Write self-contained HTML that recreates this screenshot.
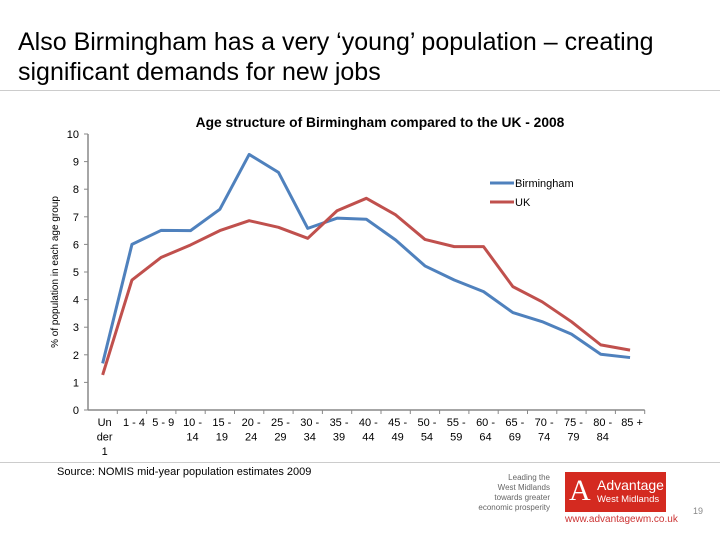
<!DOCTYPE html>
<html><head><meta charset="utf-8"><style>
body{margin:0;width:720px;height:540px;background:#fff;font-family:"Liberation Sans",sans-serif;overflow:hidden;position:relative}
.title{position:absolute;left:18px;top:27px;font-size:25px;line-height:30px;color:#000;white-space:nowrap}
.hr{position:absolute;left:0;width:720px;height:1px;background:#ccc}
</style></head><body>
<div class="title">Also Birmingham has a very ‘young’ population – creating<br>significant demands for new jobs</div>
<div class="hr" style="top:90px"></div>
<div class="hr" style="top:462px"></div>
<svg id="chart" width="720" height="540" style="position:absolute;left:0;top:0" font-family="Liberation Sans, sans-serif"></svg>
<div style="position:absolute;left:57px;top:466px;font-size:11px">Source: NOMIS mid-year population estimates 2009</div>
<div style="position:absolute;left:470px;top:473px;width:80px;text-align:right;font-size:8px;line-height:10px;color:#666">Leading the<br>West Midlands<br>towards greater<br>economic prosperity</div>
<div style="position:absolute;left:565px;top:472px;width:101px;height:40px;background:#d42a20;color:#fff;overflow:hidden">
<div style="position:absolute;left:4px;top:4px;font-size:30px;font-family:'Liberation Serif',serif;line-height:30px">A</div>
<div style="position:absolute;left:32px;top:5px;font-size:14px;line-height:16px">Advantage</div>
<div style="position:absolute;left:32px;top:22px;font-size:9.5px;line-height:12px">West Midlands</div></div>
<div style="position:absolute;left:565px;top:514px;font-size:10px;color:#c33">www.advantagewm.co.uk</div>
<div style="position:absolute;left:693px;top:506px;font-size:9px;color:#888">19</div>
<script>
const categories=[["Un","der","1"],["1 - 4"],["5 - 9"],["10 -","14"],["15 -","19"],["20 -","24"],["25 -","29"],["30 -","34"],["35 -","39"],["40 -","44"],["45 -","49"],["50 -","54"],["55 -","59"],["60 -","64"],["65 -","69"],["70 -","74"],["75 -","79"],["80 -","84"],["85 +"]];
const birmingham=[1.69,6.0,6.51,6.5,7.27,9.26,8.61,6.58,6.95,6.91,6.16,5.22,4.71,4.29,3.53,3.2,2.75,2.02,1.9];
const uk=[1.27,4.71,5.53,5.98,6.5,6.86,6.62,6.22,7.22,7.67,7.07,6.18,5.92,5.92,4.47,3.92,3.2,2.36,2.17];
const yTicks=[0,1,2,3,4,5,6,7,8,9,10];
const svg=document.getElementById('chart');const NS='http://www.w3.org/2000/svg';
const x0=88,cw=29.3,yb=410,yt=134;
const X=i=>x0+cw*(i+0.5);const Y=v=>yb-(yb-yt)*v/10;
function mk(t,a,p){const e=document.createElementNS(NS,t);for(const k in a)e.setAttribute(k,a[k]);(p||svg).appendChild(e);return e;}
let t=mk('text',{x:380,y:127,'text-anchor':'middle','font-size':13.8,'font-weight':'bold'});t.textContent='Age structure of Birmingham compared to the UK - 2008';


let ax=mk('line',{x1:x0,y1:yt,x2:x0,y2:yb,stroke:'#888','stroke-width':1.5});


let bx=mk('line',{x1:x0,y1:yb,x2:x0+cw*categories.length,y2:yb,stroke:'#888','stroke-width':1.5});


yTicks.forEach(v=>{mk('line',{x1:x0-4,y1:Y(v),x2:x0,y2:Y(v),stroke:'#888'});
let l=mk('text',{x:79,y:Y(v)+4,'text-anchor':'end','font-size':11});l.textContent=v;

});
categories.forEach((c,i)=>{mk('line',{x1:x0+cw*(i+1),y1:yb,x2:x0+cw*(i+1),y2:yb+4,stroke:'#888'});
c.forEach((s,j)=>{let l=mk('text',{x:X(i)+2,y:yb+16+j*14.5,'text-anchor':'middle','font-size':11});l.textContent=s;

});});
let yl=mk('text',{x:0,y:0,transform:'translate(58,272) rotate(-90)','text-anchor':'middle','font-size':10});yl.textContent='% of population in each age group';


[[birmingham,'#4f81bd','birmingham-line'],[uk,'#c0504d','uk-line']].forEach(([d,c,n])=>{
let p=mk('polyline',{points:d.map((v,i)=>X(i)+','+Y(v)).join(' '),fill:'none',stroke:c,'stroke-width':3,'stroke-linejoin':'round'});

});
[['Birmingham','#4f81bd',183],['UK','#c0504d',202]].forEach(([s,c,y])=>{
let g=mk('g',{});

mk('line',{x1:490,y1:y,x2:514,y2:y,stroke:c,'stroke-width':3},g);
let l=mk('text',{x:515,y:y+4,'font-size':11},g);l.textContent=s;});
</script>
</body></html>
